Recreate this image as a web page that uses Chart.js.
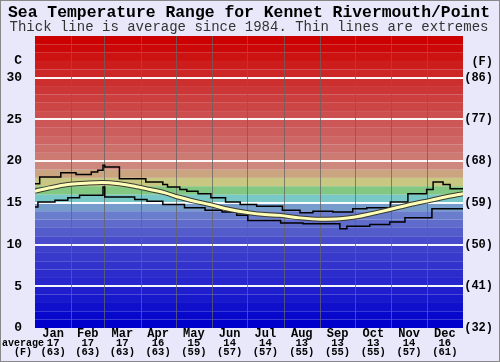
<!DOCTYPE html>
<html>
<head>
<meta charset="utf-8">
<script src="https://cdn.jsdelivr.net/npm/chart.js@4"></script>
<style>
  html, body { margin: 0; padding: 0; background: #e8e8fa; }
  canvas { display: block; }
</style>
</head>
<body>
<canvas id="chart" width="500" height="362"></canvas>
<script>
// day-of-year where each month starts (last = year end)
const monthStarts = [0, 31, 59, 90, 120, 151, 181, 212, 243, 273, 304, 334, 365];
const months = ['Jan', 'Feb', 'Mar', 'Apr', 'May', 'Jun', 'Jul', 'Aug', 'Sep', 'Oct', 'Nov', 'Dec'];
const monthAvgC = [17, 17, 17, 16, 15, 14, 14, 13, 13, 13, 14, 16];
const monthAvgF = [63, 63, 63, 63, 59, 57, 57, 55, 55, 55, 57, 61];

const celsiusTicks = [0, 5, 10, 15, 20, 25, 30];
const fahrenheitTicks = ['(32)', '(41)', '(50)', '(59)', '(68)', '(77)', '(86)'];

// highest recorded (step line, value holds until next day)
const maxDays  = [0, 4, 22, 35, 48, 53.5, 58, 59.5, 72, 94.5, 109, 113, 123.5, 129.5, 139, 150, 162.5, 175, 189, 211, 226, 237, 254, 271, 283, 303, 318, 334, 339.5, 348, 354, 365];
const maxTemps = [17.3, 18.1, 18.6, 18.4, 18.7, 18.9, 19.5, 19.3, 17.9, 17.5, 17.2, 16.9, 16.6, 16.4, 16.1, 15.6, 15.1, 14.8, 14.6, 14.1, 13.8, 14.0, 13.9, 14.3, 14.4, 15.1, 16.1, 16.6, 17.5, 17.2, 16.7, 16.7];

// lowest recorded (step line)
const minDays  = [0, 2.5, 17, 28, 38, 58, 59.5, 85, 95.5, 109, 127.5, 145, 159.5, 172, 181.5, 209.5, 228.5, 260, 266, 285.5, 302.5, 315.5, 338.5, 365];
const minTemps = [14.5, 15.1, 15.3, 15.6, 15.9, 16.9, 15.7, 15.4, 15.2, 14.8, 14.4, 14.1, 13.9, 13.5, 12.9, 12.6, 12.5, 11.9, 12.2, 12.4, 12.7, 13.2, 14.3, 14.3];

// long-term average
const avgDays  = [0, 12.5, 28, 42.5, 57, 72, 85, 98, 111, 122, 136, 149, 166, 183, 196, 209, 226, 243, 260, 273, 290, 302.5, 320, 337, 350, 365];
const avgTemps = [16.4, 16.8, 17.2, 17.35, 17.45, 17.3, 17.0, 16.6, 16.2, 15.7, 15.2, 14.8, 14.2, 13.8, 13.6, 13.5, 13.2, 13.05, 13.1, 13.3, 13.8, 14.2, 14.8, 15.3, 15.7, 16.1];

// one background colour per degree, 0..34
const bandColors = [
  'rgb(0,0,204)', 'rgb(8,8,204)', 'rgb(16,16,204)', 'rgb(24,24,204)', 'rgb(30,30,204)',
  'rgb(38,38,204)', 'rgb(44,44,204)', 'rgb(50,50,204)', 'rgb(56,58,204)', 'rgb(62,64,204)',
  'rgb(72,76,204)', 'rgb(84,92,204)', 'rgb(96,108,204)', 'rgb(106,124,204)', 'rgb(118,156,204)',
  'rgb(120,200,200)', 'rgb(130,200,130)', 'rgb(200,200,130)', 'rgb(202,165,128)', 'rgb(205,135,125)',
  'rgb(205,122,115)', 'rgb(205,112,108)', 'rgb(205,102,100)', 'rgb(205,94,94)', 'rgb(205,86,86)',
  'rgb(205,78,78)', 'rgb(205,70,70)', 'rgb(205,62,62)', 'rgb(205,54,54)', 'rgb(205,46,46)',
  'rgb(205,38,38)', 'rgb(205,28,28)', 'rgb(205,18,18)', 'rgb(204,8,8)', 'rgb(204,0,0)'
];

const pts = (xs, ys) => xs.map((x, i) => ({ x: x, y: ys[i] }));
const MONO = '"Liberation Mono", "Courier New", monospace';

const backdrop = {
  id: 'backdrop',
  beforeDatasetsDraw(chart) {
    const { ctx, chartArea: a, scales: { x, y } } = chart;
    ctx.save();
    bandColors.forEach((c, t) => {
      const top = y.getPixelForValue(t + 1);
      const bot = y.getPixelForValue(t);
      ctx.fillStyle = c;
      ctx.fillRect(a.left, top, a.right - a.left, bot - top);
    });
    // white lines every 5 C
    ctx.strokeStyle = 'rgba(255,255,255,0.95)';
    ctx.lineWidth = 2;
    celsiusTicks.slice(1).forEach(t => {
      const py = Math.round(y.getPixelForValue(t));
      ctx.beginPath();
      ctx.moveTo(a.left, py);
      ctx.lineTo(a.right, py);
      ctx.stroke();
    });
    // month separators
    ctx.strokeStyle = 'rgba(100,100,100,0.75)';
    ctx.lineWidth = 1;
    monthStarts.slice(1, -1).forEach(d => {
      const px = Math.round(x.getPixelForValue(d)) + 0.5;
      ctx.beginPath();
      ctx.moveTo(px, a.top);
      ctx.lineTo(px, a.bottom);
      ctx.stroke();
    });
    ctx.restore();
  },
  afterDraw(chart) {
    const { ctx, scales: { x, y } } = chart;
    ctx.save();
    ctx.fillStyle = '#000';
    ctx.textBaseline = 'middle';

    ctx.textAlign = 'center';
    ctx.font = 'bold 16.4px ' + MONO;
    ctx.fillText('Sea Temperature Range for Kennet Rivermouth/Point', 249, 13);
    ctx.font = '14px ' + MONO;
    ctx.fillStyle = '#333';
    ctx.fillText('Thick line is average since 1984. Thin lines are extremes', 249, 27);
    ctx.fillStyle = '#000';

    // left axis (C)
    ctx.textAlign = 'right';
    ctx.font = 'bold 13px ' + MONO;
    ctx.fillText('C', 22, 61);
    celsiusTicks.forEach(t => ctx.fillText(String(t), 22, y.getPixelForValue(t)));

    // right axis (F)
    ctx.font = 'bold 12px ' + MONO;
    ctx.fillText('(F)', 493, 62);
    fahrenheitTicks.forEach((f, i) => ctx.fillText(f, 493, y.getPixelForValue(celsiusTicks[i])));

    // month labels with monthly averages
    ctx.textAlign = 'center';
    months.forEach((m, i) => {
      const px = x.getPixelForValue((monthStarts[i] + monthStarts[i + 1]) / 2);
      ctx.font = 'bold 12px ' + MONO;
      ctx.fillText(m, px, 334);
      ctx.font = 'bold 10.5px ' + MONO;
      ctx.fillText(String(monthAvgC[i]), px, 343);
      ctx.fillText('(' + monthAvgF[i] + ')', px, 352);
    });
    ctx.textAlign = 'left';
    ctx.font = 'bold 10px ' + MONO;
    ctx.fillText('average', 2, 343);
    ctx.textAlign = 'center';
    ctx.fillText('(F)', 23, 352);

    // outer frame
    ctx.strokeStyle = '#888';
    ctx.lineWidth = 1;
    ctx.strokeRect(0.5, 0.5, 499, 361);
    ctx.restore();
  }
};

new Chart(document.getElementById('chart').getContext('2d'), {
  type: 'line',
  data: {
    // lower index is drawn on top
    datasets: [
      {
        data: pts(avgDays, avgTemps),
        borderColor: '#ffffb8',
        borderWidth: 3,
        cubicInterpolationMode: 'monotone',
        pointRadius: 0,
      },
      {
        data: pts(avgDays, avgTemps),
        borderColor: '#3a3a30',
        borderWidth: 5,
        cubicInterpolationMode: 'monotone',
        pointRadius: 0,
      },
      {
        data: pts(maxDays, maxTemps),
        borderColor: '#000',
        borderWidth: 1.5,
        stepped: true,
        pointRadius: 0,
      },
      {
        data: pts(minDays, minTemps),
        borderColor: '#000',
        borderWidth: 1.5,
        stepped: true,
        pointRadius: 0,
      },
    ],
  },
  options: {
    responsive: false,
    animation: false,
    layout: { padding: { left: 35, right: 37, top: 36, bottom: 34 } },
    scales: {
      x: { type: 'linear', min: 0, max: 365, display: false },
      y: { min: 0, max: 35, display: false },
    },
    plugins: {
      legend: { display: false },
      tooltip: { enabled: false },
    },
  },
  plugins: [backdrop],
});
</script>
</body>
</html>
